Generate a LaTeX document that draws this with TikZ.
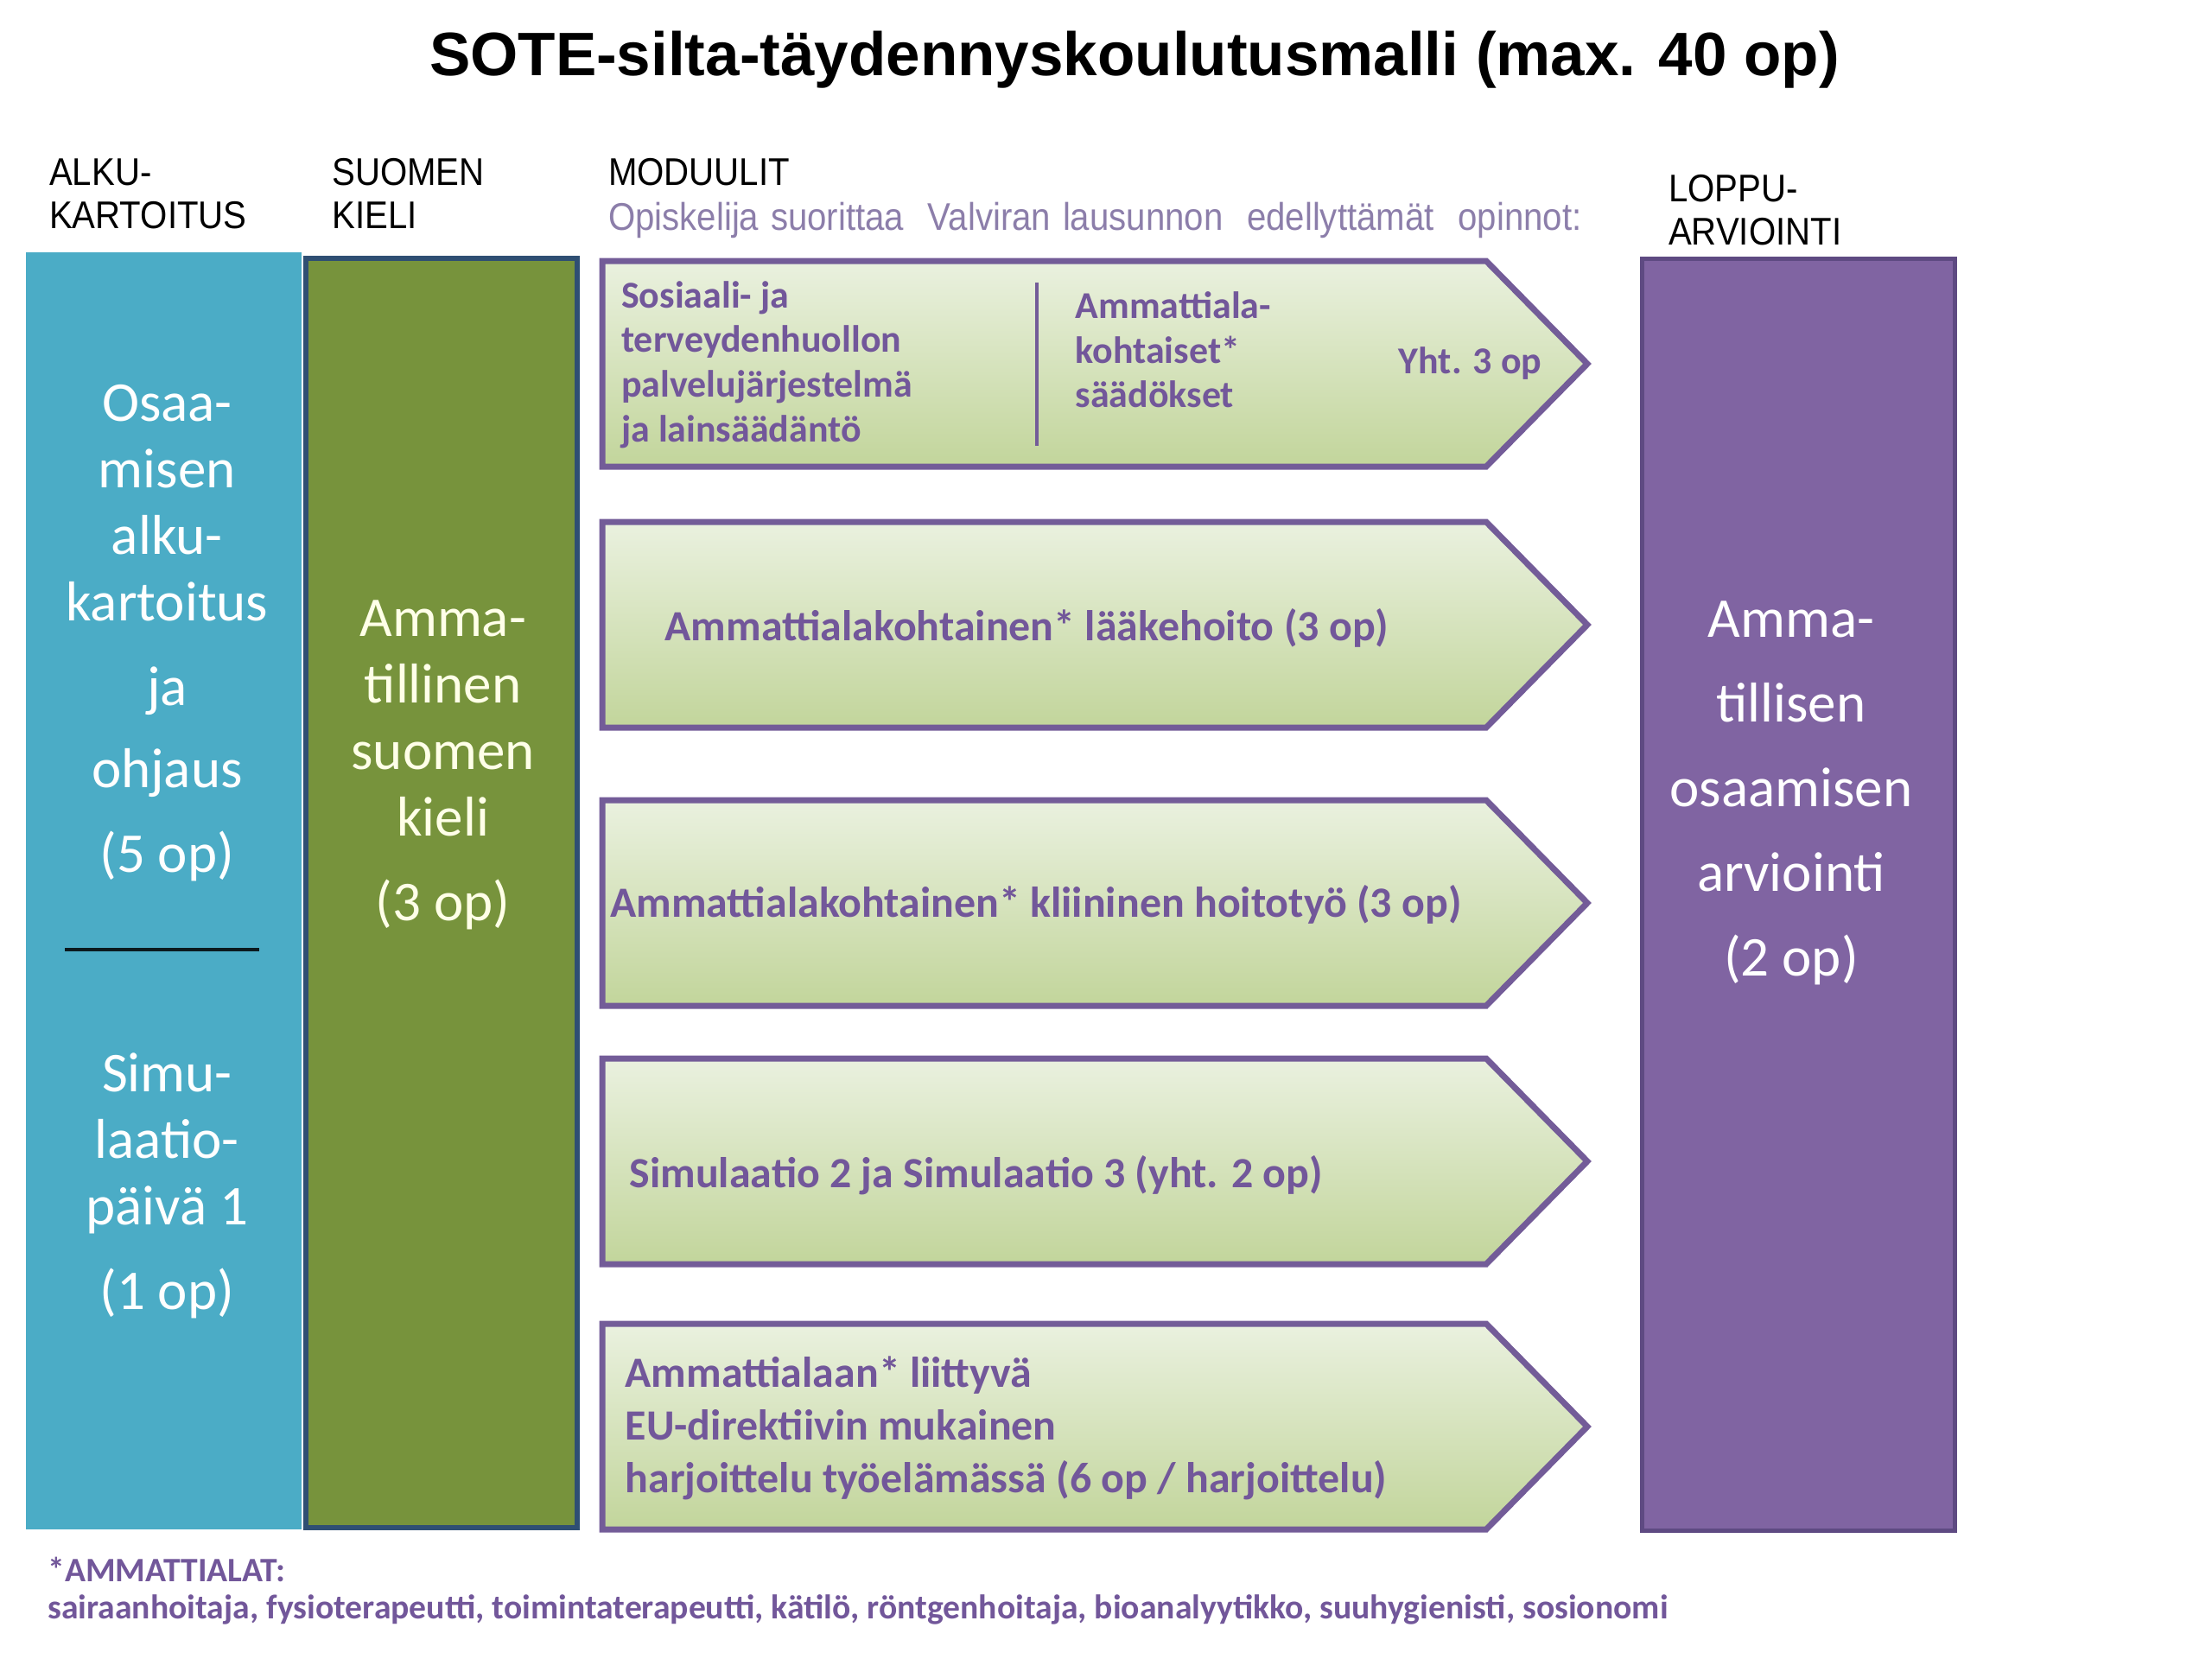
\documentclass[tikz,border=0pt]{standalone}
\usepackage{fontspec}
\setmainfont{Carlito}
\newfontfamily\titlefont{Liberation Sans}
\newfontfamily\headfont[FakeStretch=0.9]{Liberation Sans}
\usepackage{xcolor}
\usepackage{tikz}
\usetikzlibrary{positioning}
\tikzset{>=latex}

\definecolor{alkublue}{HTML}{4BACC6}
\definecolor{kieligreen}{HTML}{77933C}
\definecolor{kieliedge}{HTML}{2F4F73}
\definecolor{loppupurple}{HTML}{8064A2}
\definecolor{loppuedge}{HTML}{5E4A82}
\definecolor{modedge}{HTML}{735C98}
\definecolor{modtop}{HTML}{EAF1DF}
\definecolor{modbottom}{HTML}{C2D59B}
\definecolor{modtext}{HTML}{72579A}
\definecolor{subtext}{HTML}{8C7EAA}
\definecolor{creamwhite}{HTML}{FFFFE8}

\tikzset{
    column/.style={inner sep=0pt, anchor=north west},
    coltext/.style={align=center, text=white, font=\fontsize{18.5}{21.9}\selectfont},
    header/.style={align=left, anchor=north west, inner sep=0pt, font=\headfont\fontsize{12.7}{14.2}\selectfont},
    modarrow/.style={draw=modedge, line width=0.07cm, line join=miter, top color=modtop, bottom color=modbottom},
    modlabel/.style={anchor=west, inner sep=0pt, align=left, text=modtext, font=\bfseries\fontsize{14.2}{17.3}\selectfont},
    smalllabel/.style={modlabel, font=\bfseries\fontsize{12.5}{14.7}\selectfont},
    footlabel/.style={anchor=west, inner sep=0pt, text=modtext, font=\bfseries\fontsize{11.28}{13}\selectfont},
}

\begin{document}
\begin{tikzpicture}
        \useasboundingbox (0,0) rectangle (25.6,-19.19);

        % title
        \node[font=\titlefont\bfseries\fontsize{20.2}{24}\selectfont] (title) at (13.13,-0.69)
            {SOTE-silta-täydennyskoulutusmalli (max. 40 op)};

        % column headers
        \node[header] (alkuhead) at (0.564,-1.827) {ALKU-\\KARTOITUS};
        \node[header] (kielihead) at (3.837,-1.827) {SUOMEN\\KIELI};
        \node[header] (modhead) at (7.035,-1.827)
            {MODUULIT\\[0.6pt]\textcolor{subtext}{\spaceskip=3.95pt\relax Opiskelija suorittaa\ \ Valviran lausunnon\ \ edellyttämät\ \ opinnot:}};
        \node[header] (loppuhead) at (19.304,-2.014) {LOPPU-\\ARVIOINTI};

        % alkukartoitus
        \node[column, fill=alkublue, minimum width=3.19cm, minimum height=14.78cm] (alku) at (0.29,-2.91) {};
        \node[coltext] (alkutext) at (1.934,-7.326)
            {Osaa-\\misen\\alku-\\kartoitus\\[6pt]ja\\[5pt]ohjaus\\[6pt](5 op)};
        \draw[line width=0.04cm, black!85!alkublue] (0.75,-10.99) -- (3.00,-10.99);
        \node[coltext] (simutext) at (1.934,-13.722)
            {Simu-\\laatio-\\päivä 1\\[6pt](1 op)};

        % suomen kieli
        \node[column, fill=kieligreen, draw=kieliedge, line width=0.06cm,
            minimum width=3.14cm, minimum height=14.69cm] (kieli) at (3.51,-2.96) {};
        \node[coltext, text=creamwhite] (kielitext) at (5.127,-8.856)
            {Amma-\\tillinen\\suomen\\kieli\\[6pt](3 op)};

        % loppuarviointi
        \node[column, fill=loppupurple, draw=loppuedge, line width=0.05cm,
            minimum width=3.62cm, minimum height=14.72cm] (loppu) at (18.98,-2.97) {};
        \node[coltext, font=\fontsize{18.5}{27.9}\selectfont] (lopputext) at (20.73,-9.179)
            {Amma-\\tillisen\\osaamisen\\arviointi\\(2 op)};

        % module arrows
        \foreach \n/\top in {1/3.02, 2/6.04, 3/9.26, 4/12.25, 5/15.32} {
            \draw[modarrow] (6.97,-\top) -- ++(10.23,0) -- ++(1.17,-1.19)
                -- ++(-1.17,-1.19) -- ++(-10.23,0) -- cycle;
            \coordinate (mod\n) at (6.97,{-\top-1.19});
        }

        % first module
        \node[smalllabel] (lawtext) at ([xshift=0.215cm,yshift=-0.01cm]mod1)
            {Sosiaali- ja\\terveydenhuollon\\palvelujärjestelmä\\ja lainsäädäntö};
        \draw[line width=0.04cm, modedge] (12.00,-3.27) -- (12.00,-5.16);
        \node[smalllabel] (acttext) at ([xshift=5.47cm,yshift=0.16cm]mod1)
            {Ammattiala-\\kohtaiset*\\säädökset};
        \node[smalllabel, anchor=east] (acttotal) at (17.85,-4.204) {Yht. 3 op};

        % other modules
        \node[modlabel] (medtext) at ([xshift=0.72cm,yshift=-0.041cm]mod2)
            {Ammattialakohtainen* lääkehoito (3 op)};
        \node[modlabel] (caretext) at ([xshift=0.085cm,yshift=-0.018cm]mod3)
            {Ammattialakohtainen* kliininen hoitotyö (3 op)};
        \node[modlabel] (simtext) at ([xshift=0.31cm,yshift=-0.162cm]mod4)
            {Simulaatio 2 ja Simulaatio 3 (yht. 2 op)};
        \node[modlabel] (praktext) at ([xshift=0.26cm,yshift=-0.016cm]mod5)
            {Ammattialaan* liittyvä\\EU-direktiivin mukainen\\harjoittelu työelämässä (6 op / harjoittelu)};

        % footnote
        \node[footlabel] (fieldhead) at (0.547,-18.167) {*AMMATTIALAT:};
        \node[footlabel] (fieldlist) at (0.547,-18.627)
            {sairaanhoitaja, fysioterapeutti, toimintaterapeutti, kätilö, röntgenhoitaja, bioanalyytikko, suuhygienisti, sosionomi};
\end{tikzpicture}
\end{document}
